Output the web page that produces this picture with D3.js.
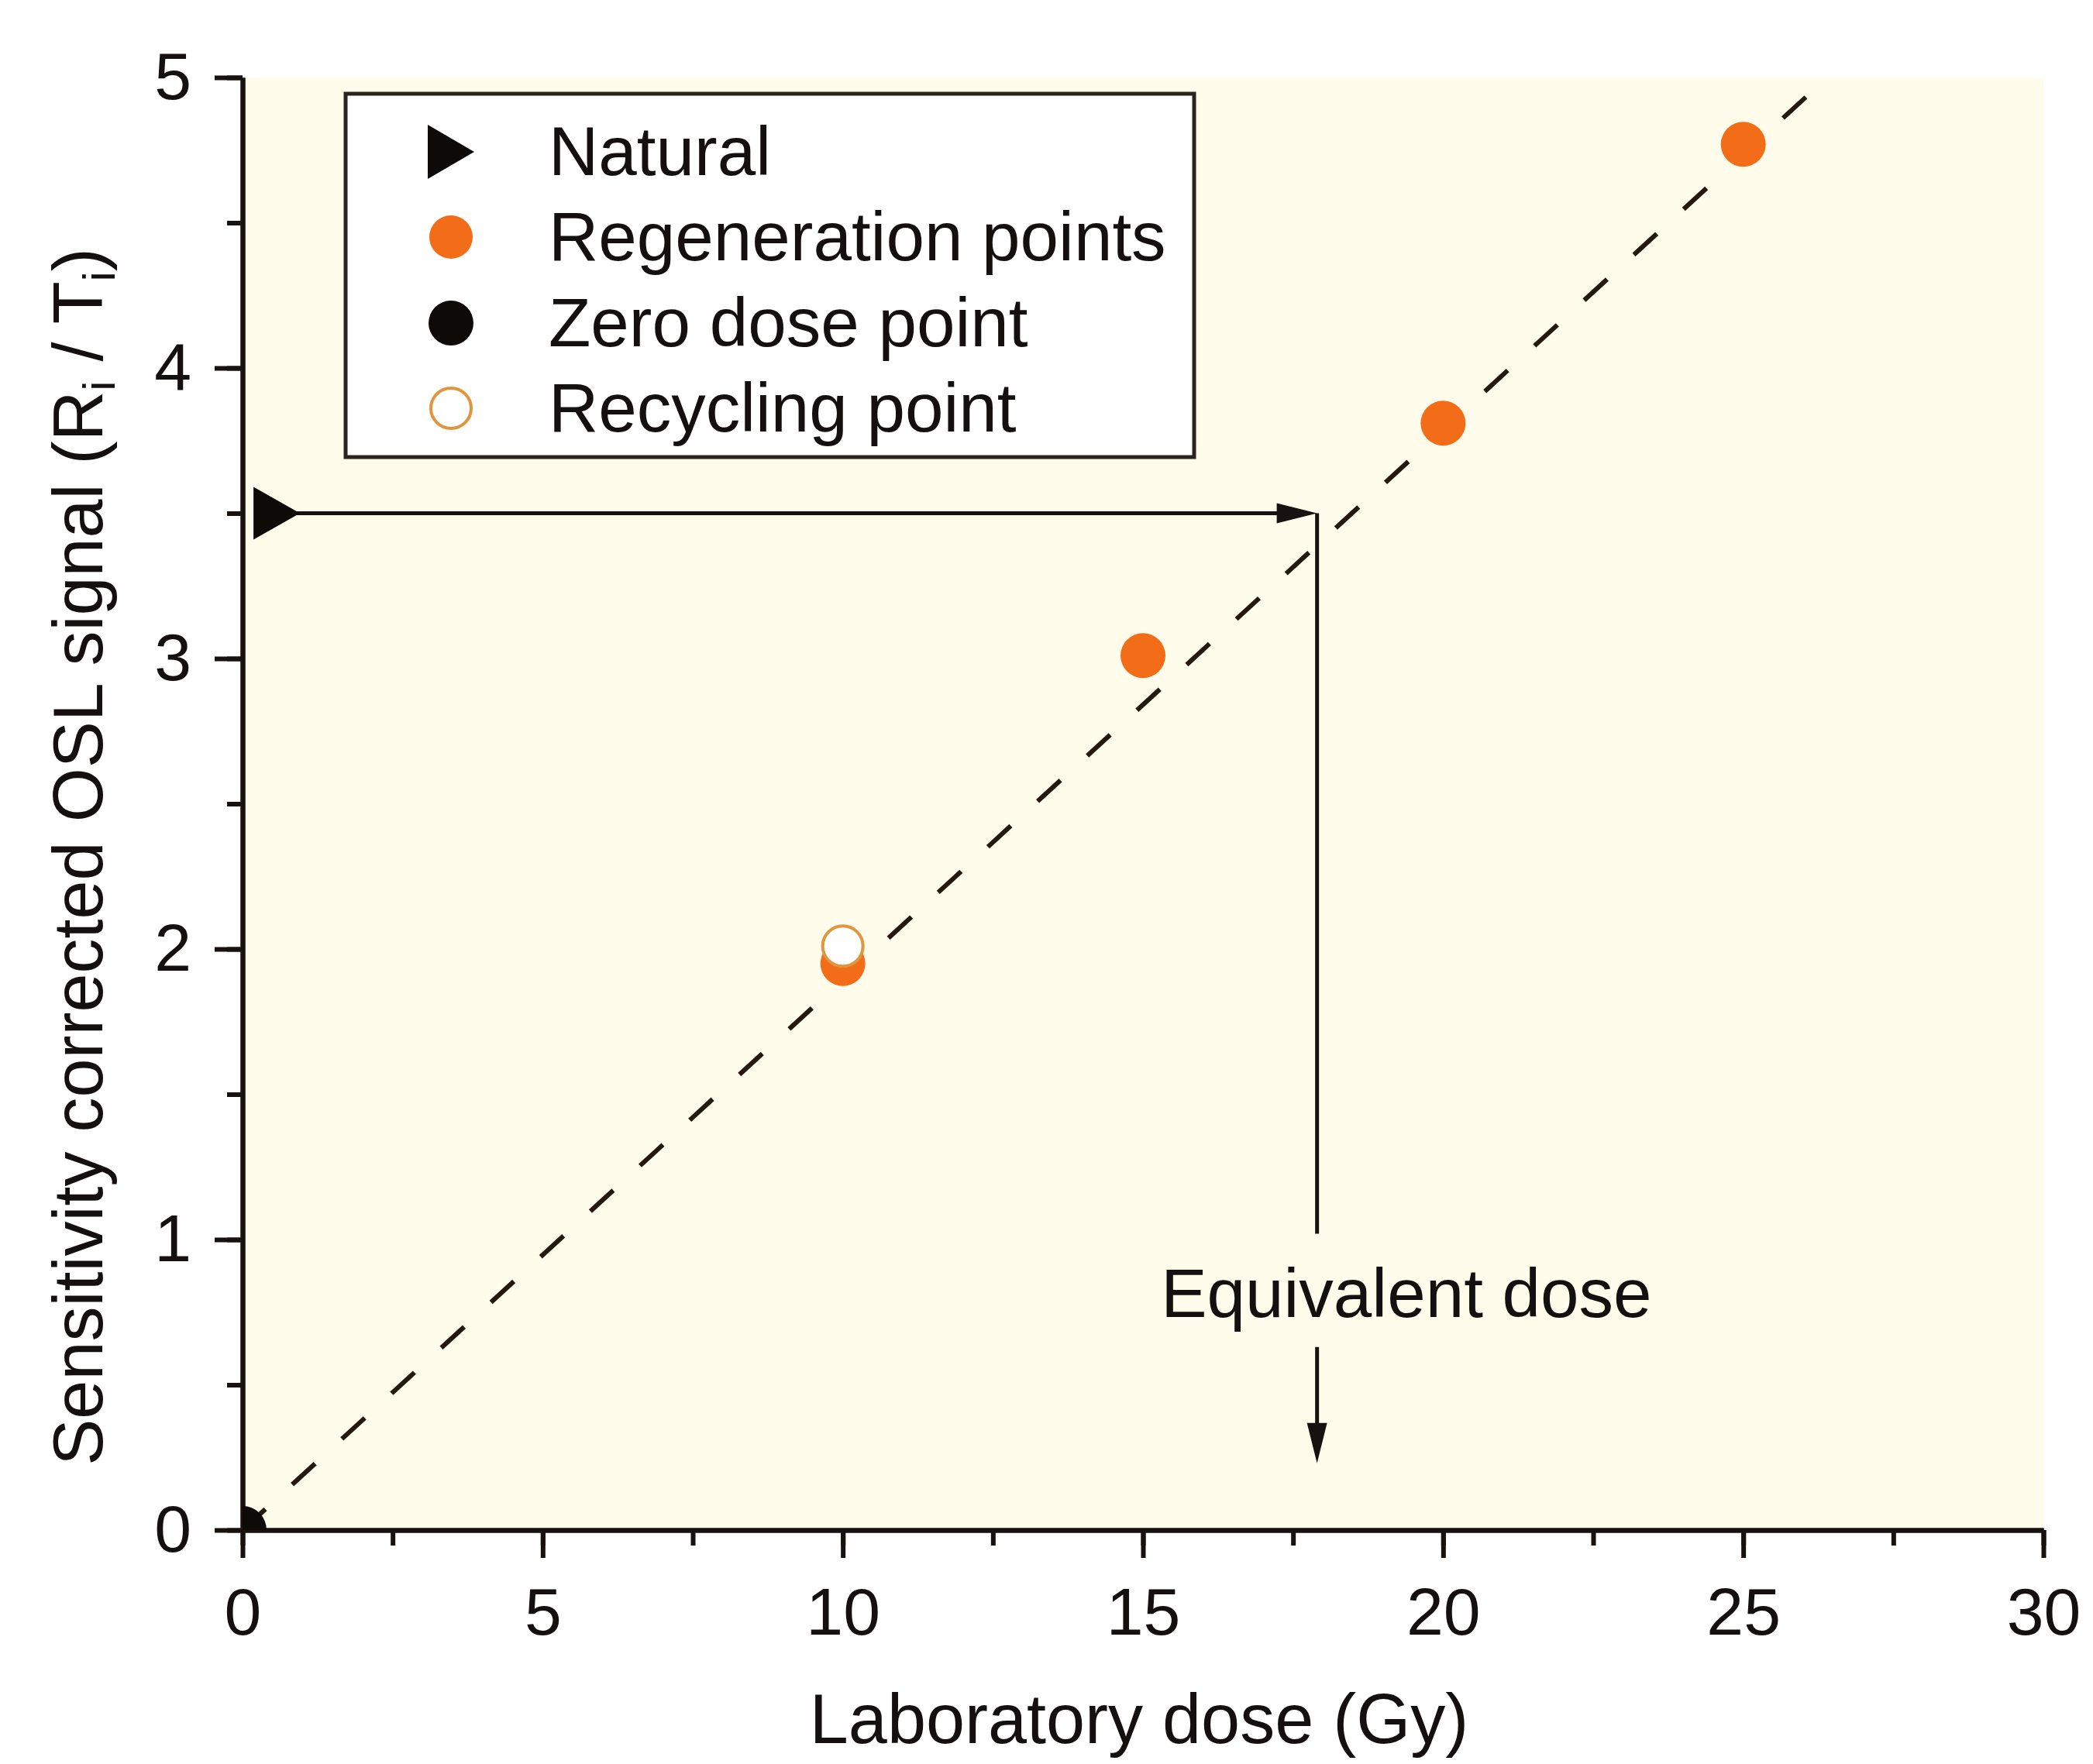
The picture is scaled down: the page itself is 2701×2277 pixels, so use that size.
<!DOCTYPE html>
<html>
<head>
<meta charset="utf-8">
<script src="https://cdn.jsdelivr.net/npm/d3@7"></script>
<style>
  body { margin: 0; background: #ffffff; }
  text { font-family: "Liberation Sans", Arial, sans-serif; fill: #141010; }
</style>
</head>
<body>
<svg id="chart" width="2701" height="2277"></svg>
<script>
// ---- data ----
var regenDose = [10, 15, 20, 25];
var regenSignal = [1.95, 3.01, 3.81, 4.77];
var recycleDose = [10];
var recycleSignal = [2.01];
var zeroDose = [0];
var zeroSignal = [0];
var naturalDose = [0.57];
var naturalSignal = [3.5];
var equivDose = 17.9;
var fitX = [0, 26.4];
var fitY = [0, 5];
var xTicks = [0, 5, 10, 15, 20, 25, 30];
var yTicks = [0, 1, 2, 3, 4, 5];
var legendLabels = ["Natural", "Regeneration points", "Zero dose point", "Recycling point"];

var orange = "#f36c17";
var ink = "#171210";

var svg = d3.select("#chart");

var plot = { left: 313, right: 2637, top: 100, bottom: 1975 };

var xScale = d3.scaleLinear().domain([0, 30]).range([plot.left, plot.right]);
var yScale = d3.scaleLinear().domain([0, 5]).range([plot.bottom, plot.top]);

// cream plot background
svg.append("rect")
    .attr("x", plot.left).attr("y", plot.top)
    .attr("width", plot.right - plot.left).attr("height", plot.bottom - plot.top)
    .attr("fill", "#fffcec");

svg.append("clipPath").attr("id", "plotclip")
  .append("rect")
    .attr("x", plot.left).attr("y", plot.top)
    .attr("width", plot.right - plot.left).attr("height", plot.bottom - plot.top);

// -------- axes --------
function styleAxis(g) {
  g.select(".domain").attr("stroke", ink).attr("stroke-width", 6);
  g.selectAll(".tick line").attr("stroke", ink).attr("stroke-width", 6);
  g.selectAll(".tick text").attr("font-size", 86).attr("fill", ink)
      .style("font-family", "'Liberation Sans', Arial, sans-serif");
}

var xMinor = d3.range(0, 30.01, 2.5);
var yMinor = d3.range(0, 5.01, 0.5);

svg.append("g")
    .attr("transform", "translate(0," + plot.bottom + ")")
    .call(d3.axisBottom(xScale).tickValues(xMinor).tickSize(20).tickSizeOuter(0).tickFormat(""))
    .call(styleAxis);

svg.append("g")
    .attr("transform", "translate(" + plot.left + ",0)")
    .call(d3.axisLeft(yScale).tickValues(yMinor).tickSize(20).tickSizeOuter(0).tickFormat(""))
    .call(styleAxis);

svg.append("g")
    .attr("transform", "translate(0," + plot.bottom + ")")
    .call(d3.axisBottom(xScale).tickValues(xTicks).tickSize(36).tickPadding(38)
          .tickSizeOuter(0).tickFormat(d3.format("d")))
    .call(styleAxis);

svg.append("g")
    .attr("transform", "translate(" + plot.left + ",0)")
    .call(d3.axisLeft(yScale).tickValues(yTicks).tickSize(36).tickPadding(30)
          .tickSizeOuter(0).tickFormat(d3.format("d")))
    .call(styleAxis);

// axis titles
svg.append("text")
    .attr("x", (plot.left + plot.right) / 2 - 5)
    .attr("y", 2250)
    .attr("text-anchor", "middle")
    .attr("font-size", 90)
    .text("Laboratory dose (Gy)");

var yTitle = svg.append("text")
    .attr("transform", "translate(132,1106) rotate(-90)")
    .attr("text-anchor", "middle")
    .attr("font-size", 90);
yTitle.append("tspan").text("Sensitivity corrected OSL signal (R");
yTitle.append("tspan").attr("font-size", 58).attr("dy", 16).text("i");
yTitle.append("tspan").attr("dy", -16).text(" / T");
yTitle.append("tspan").attr("font-size", 58).attr("dy", 16).text("i");
yTitle.append("tspan").attr("dy", -16).text(")");

// -------- dashed fit line --------
var fitData = fitX.map(function(d, i) { return { x: d, y: fitY[i] }; });
var line = d3.line()
    .x(function(d) { return xScale(d.x); })
    .y(function(d) { return yScale(d.y); });

svg.append("path")
    .datum(fitData)
    .attr("d", line)
    .attr("fill", "none")
    .attr("stroke", "#24180f")
    .attr("stroke-width", 6)
    .attr("stroke-dasharray", "40,47");

// -------- equivalent dose arrows --------
var arrowLen = 52, arrowHalf = 13;
var exEd = xScale(equivDose);
var yNat = yScale(naturalSignal[0]);

svg.append("line")
    .attr("x1", xScale(naturalDose[0])).attr("y1", yNat)
    .attr("x2", exEd - arrowLen + 2).attr("y2", yNat)
    .attr("stroke", ink).attr("stroke-width", 5);
svg.append("path")
    .attr("d", "M" + exEd + "," + yNat +
               "L" + (exEd - arrowLen) + "," + (yNat - arrowHalf) +
               "L" + (exEd - arrowLen) + "," + (yNat + arrowHalf) + "Z")
    .attr("fill", ink);

// vertical drop, broken by the label
svg.append("line")
    .attr("x1", exEd).attr("y1", yNat)
    .attr("x2", exEd).attr("y2", yScale(1.02))
    .attr("stroke", ink).attr("stroke-width", 5);

var tipY = yScale(0.23);
svg.append("line")
    .attr("x1", exEd).attr("y1", yScale(0.63))
    .attr("x2", exEd).attr("y2", tipY - arrowLen + 2)
    .attr("stroke", ink).attr("stroke-width", 5);
svg.append("path")
    .attr("d", "M" + exEd + "," + tipY +
               "L" + (exEd - arrowHalf) + "," + (tipY - arrowLen) +
               "L" + (exEd + arrowHalf) + "," + (tipY - arrowLen) + "Z")
    .attr("fill", ink);

svg.append("text")
    .attr("x", xScale(15.3))
    .attr("y", yScale(0.733))
    .attr("font-size", 89)
    .text("Equivalent dose");

// -------- points --------
function triPath(w, h) {
  return "M" + (-w / 2) + "," + (-h / 2) + "L" + (w / 2) + ",0L" + (-w / 2) + "," + (h / 2) + "Z";
}

var pts = svg.append("g").attr("clip-path", "url(#plotclip)");

pts.selectAll(".zero")
    .data(zeroDose)
  .enter().append("circle")
    .attr("class", "zero")
    .attr("cx", function(d) { return xScale(d); })
    .attr("cy", function(d, i) { return yScale(zeroSignal[i]); })
    .attr("r", 31)
    .attr("fill", "#0d0a08");

pts.selectAll(".regen")
    .data(regenDose)
  .enter().append("circle")
    .attr("class", "regen")
    .attr("cx", function(d) { return xScale(d); })
    .attr("cy", function(d, i) { return yScale(regenSignal[i]); })
    .attr("r", 29)
    .attr("fill", orange);

pts.selectAll(".recycle")
    .data(recycleDose)
  .enter().append("circle")
    .attr("class", "recycle")
    .attr("cx", function(d) { return xScale(d); })
    .attr("cy", function(d, i) { return yScale(recycleSignal[i]); })
    .attr("r", 26)
    .attr("fill", "#ffffff")
    .attr("stroke", "#e0963f")
    .attr("stroke-width", 4);

pts.selectAll(".natural")
    .data(naturalDose)
  .enter().append("path")
    .attr("class", "natural")
    .attr("transform", function(d, i) {
      return "translate(" + xScale(d) + "," + yScale(naturalSignal[i]) + ")";
    })
    .attr("d", triPath(60, 68))
    .attr("fill", "#0d0a08");

// -------- legend --------
var legend = svg.append("g");
legend.append("rect")
    .attr("x", 446).attr("y", 121)
    .attr("width", 1095).attr("height", 469)
    .attr("fill", "#ffffff")
    .attr("stroke", "#2a241c")
    .attr("stroke-width", 5);

var rowY = [196, 306, 417, 527];
var markX = 582;

legend.append("path")
    .attr("transform", "translate(" + markX + "," + rowY[0] + ")")
    .attr("d", triPath(60, 70))
    .attr("fill", "#0d0a08");
legend.append("circle").attr("cx", markX).attr("cy", rowY[1]).attr("r", 28).attr("fill", orange);
legend.append("circle").attr("cx", markX).attr("cy", rowY[2]).attr("r", 29).attr("fill", "#0d0a08");
legend.append("circle").attr("cx", markX).attr("cy", rowY[3]).attr("r", 26)
    .attr("fill", "#ffffff").attr("stroke", "#e0963f").attr("stroke-width", 4);

legend.selectAll(".ltext")
    .data(legendLabels)
  .enter().append("text")
    .attr("class", "ltext")
    .attr("x", 708)
    .attr("y", function(d, i) { return rowY[i]; })
    .attr("dy", "0.34em")
    .attr("font-size", 89)
    .text(function(d) { return d; });
</script>
</body>
</html>
